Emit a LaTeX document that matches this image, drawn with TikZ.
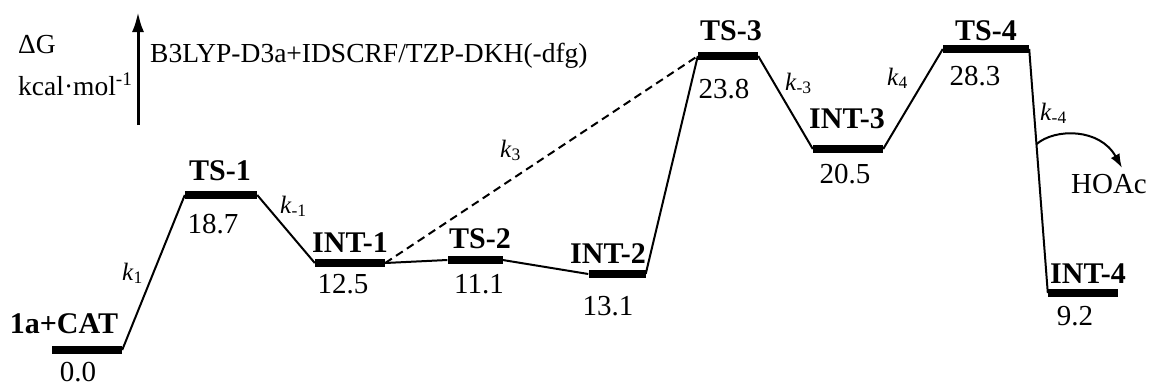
\documentclass[tikz,border=0pt]{standalone}
\usepackage{fontspec}
\setmainfont{Liberation Serif}
\usetikzlibrary{
  arrows.meta,
  positioning,
  calc
}

\begin{document}
\begin{tikzpicture}[
  x=1pt, y=-1pt,
  level/.style={
    rectangle, fill=black, inner sep=0pt,
    minimum height=7.5pt
  },
  species/.style={font=\fontsize{30}{33}\selectfont\bfseries, anchor=base},
  energy/.style={font=\fontsize{29}{32}\selectfont, anchor=base},
  rate/.style={font=\fontsize{25}{27}\selectfont, anchor=base west, inner sep=0pt},
  axislabel/.style={font=\fontsize{27.5}{30}\selectfont, anchor=base west, inner sep=0pt},
  link/.style={line width=2pt},
  shortcut/.style={line width=2pt, dash pattern=on 8pt off 5pt},
  axisarrow/.style={-{Latex[length=20pt, width=12pt]}, line width=3pt},
  arrow/.style={-{Latex[length=14pt, width=10pt]}, line width=2pt},
]
\useasboundingbox (0,0) rectangle (1154,386);

% axis and method
\coordinate (axis_bot) at (138,125);
\coordinate (axis_top) at (138,12);
\draw[axisarrow] (axis_bot) -- (axis_top);
\node[axislabel] (dg)     at (18,53) {ΔG};
\node[axislabel] (unit)   at (18,95) {kcal·mol\textsuperscript{-1}};
\node[axislabel] (method) at (150,62) {B3LYP-D3a+IDSCRF/TZP-DKH(-dfg)};

% levels
\node[level, minimum width=70pt] (cat)  at (87,350)   {};
\node[level, minimum width=72pt] (ts1)  at (221,195)  {};
\node[level, minimum width=70pt] (int1) at (350,263)  {};
\node[level, minimum width=55pt] (ts2)  at (475,260)  {};
\node[level, minimum width=57pt] (int2) at (617,274)  {};
\node[level, minimum width=60pt] (ts3)  at (728,56)   {};
\node[level, minimum width=70pt] (int3) at (848,149)  {};
\node[level, minimum width=86pt] (ts4)  at (986,49)   {};
\node[level, minimum width=70pt] (int4) at (1083,293) {};

% species names
\node[species] (cat_name)  at (64,333)   {1a+CAT};
\node[species] (ts1_name)  at (220,180)  {TS-1};
\node[species] (int1_name) at (350,252)  {INT-1};
\node[species] (ts2_name)  at (480,248)  {TS-2};
\node[species] (int2_name) at (608,263)  {INT-2};
\node[species] (ts3_name)  at (731,40)   {TS-3};
\node[species] (int3_name) at (847,128)  {INT-3};
\node[species] (ts4_name)  at (986,40)   {TS-4};
\node[species] (int4_name) at (1088,283) {INT-4};

% free energies
\node[energy] (cat_e)  at (78,381)   {0.0};
\node[energy] (ts1_e)  at (213,233)  {18.7};
\node[energy] (int1_e) at (343,293)  {12.5};
\node[energy] (ts2_e)  at (479,293)  {11.1};
\node[energy] (int2_e) at (608,315)  {13.1};
\node[energy] (ts3_e)  at (724,98)   {23.8};
\node[energy] (int3_e) at (845,183)  {20.5};
\node[energy] (ts4_e)  at (975,85)   {28.3};
\node[energy] (int4_e) at (1075,325) {9.2};

% pathway
\draw[link] (cat.east)  -- (ts1.west);
\draw[link] (ts1.east)  -- (int1.west);
\draw[link] (int1.east) -- (ts2.west);
\draw[link] (ts2.east)  -- (int2.west);
\draw[link] (int2.east) -- (ts3.west);
\draw[link] (ts3.east)  -- (int3.west);
\draw[link] (int3.east) -- (ts4.west);
\draw[link] (ts4.east)  -- (int4.west);
\draw[shortcut] (int1.east) -- (ts3.west);

% rate constants
\node[rate] (k1)  at (122,280) {\textit{k}\textsubscript{1}};
\node[rate] (km1) at (280,213) {\textit{k}\textsubscript{-1}};
\node[rate] (k3)  at (500,157) {\textit{k}\textsubscript{3}};
\node[rate] (km3) at (785,90)  {\textit{k}\textsubscript{-3}};
\node[rate] (k4)  at (887,85)  {\textit{k}\textsubscript{4}};
\node[rate] (km4) at (1040,120) {\textit{k}\textsubscript{-4}};

% acetic acid release
\node[energy] (hoac) at (1109,193) {HOAc};
\coordinate (split) at ($(ts4.east)!0.39!(int4.west)$);
\coordinate (hoac_tip) at (1122,168);
\draw[arrow] (split) .. controls (1055,128) and (1100,128) .. (hoac_tip);

\end{tikzpicture}
\end{document}
